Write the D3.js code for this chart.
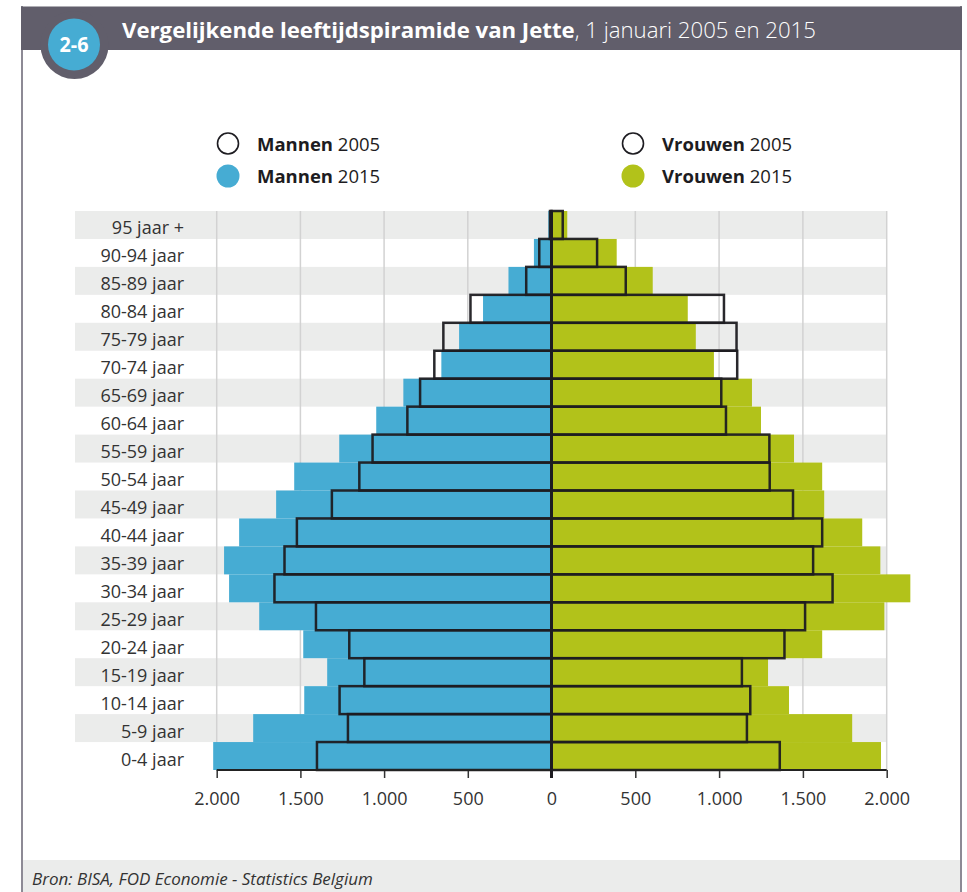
<!DOCTYPE html>
<html>
<head>
<meta charset="utf-8">
<script src="https://cdn.jsdelivr.net/npm/d3@7"></script>
<style>
  html, body { margin: 0; padding: 0; background: #fff; }
  svg { display: block; font-family: "Open Sans", "Noto Sans", sans-serif; }
</style>
</head>
<body>
<svg id="chart" width="967" height="892"></svg>
<script>
// ---- data (bottom to top) ----
const ageGroups = ["0-4 jaar","5-9 jaar","10-14 jaar","15-19 jaar","20-24 jaar","25-29 jaar","30-34 jaar","35-39 jaar","40-44 jaar","45-49 jaar","50-54 jaar","55-59 jaar","60-64 jaar","65-69 jaar","70-74 jaar","75-79 jaar","80-84 jaar","85-89 jaar","90-94 jaar","95 jaar +"];
const men2015   = [2021,1782,1477,1340,1483,1746,1926,1956,1866,1645,1537,1268,1047,885,658,552,409,257,105,19];
const men2005   = [1401,1216,1266,1118,1208,1407,1655,1595,1521,1312,1148,1069,861,785,700,646,484,151,73,9];
const women2015 = [1966,1794,1417,1292,1615,1986,2141,1962,1854,1627,1615,1447,1250,1196,969,861,813,604,389,94];
const women2005 = [1362,1166,1186,1136,1390,1513,1677,1561,1615,1441,1302,1300,1041,1013,1108,1104,1029,443,272,67];
const tickValues = [0,500,1000,1500,2000];
const legendItems = [
  {bold:"Mannen", year:"2005", fill:"none"},
  {bold:"Mannen", year:"2015", fill:"#46acd3"},
  {bold:"Vrouwen", year:"2005", fill:"none"},
  {bold:"Vrouwen", year:"2015", fill:"#b2c21a"}
];
const titleBold = "Vergelijkende leeftijdspiramide van Jette";
const titleRest = ", 1 januari 2005 en 2015";
const source = "Bron: BISA, FOD Economie - Statistics Belgium";

const svg = d3.select("#chart");
const W = 967, H = 892;
const x0 = 551.5, xMin = 216.7, xMax = 886.7;
const yTop = 211, yBottom = 770;
const BLUE = "#46acd3", GREEN = "#b2c21a", DARK = "#1d1c21", FRAME = "#615e6b";

const rows = ageGroups.map((a,i)=>({age:a, m15:men2015[i], m05:men2005[i], w15:women2015[i], w05:women2005[i], idx:i}));
const yOrder = ageGroups.slice().reverse();

const y = d3.scaleBand().domain(yOrder).range([yTop, yBottom]).padding(0);
const xL = d3.scaleLinear().domain([0,2000]).range([x0, xMin]);
const xR = d3.scaleLinear().domain([0,2000]).range([x0, xMax]);

// frame
svg.append("rect").attr("x",0).attr("y",0).attr("width",W).attr("height",H).attr("fill","#fff");
svg.append("rect").attr("x",22).attr("y",860).attr("width",939).attr("height",32).attr("fill","#ebeceb");
svg.append("line").attr("x1",22).attr("x2",22).attr("y1",6).attr("y2",H).attr("stroke","#8d8a95").attr("stroke-width",2);
svg.append("line").attr("x1",961).attr("x2",961).attr("y1",6).attr("y2",H).attr("stroke","#8d8a95").attr("stroke-width",2);
svg.append("rect").attr("x",21).attr("y",6.5).attr("width",941).attr("height",43.5).attr("fill",FRAME);

// badge
svg.append("circle").attr("cx",74.5).attr("cy",45).attr("r",34).attr("fill",FRAME);
svg.append("circle").attr("cx",74).attr("cy",44.5).attr("r",26).attr("fill",BLUE);
svg.append("text").attr("x",74).attr("y",52).attr("text-anchor","middle")
  .attr("fill","#fff").attr("font-size",21).attr("font-weight",700)
  .attr("textLength",29).attr("lengthAdjust","spacingAndGlyphs").text("2-6");

// title
const title = svg.append("text").attr("x",122).attr("y",37.5).attr("fill","#fff").attr("font-size",22.2);
title.append("tspan").attr("font-weight",700).text(titleBold);
title.append("tspan").attr("font-weight",300).text(titleRest);

// legend
const legPos = [[228,143.5,257,151],[228,176,257,183],[633,143.5,662,151],[633,176,662,183]];
legendItems.forEach((d,i)=>{
  const p = legPos[i];
  svg.append("circle").attr("cx",p[0]).attr("cy",p[1]).attr("r", d.fill==="none"?10.5:11.5)
    .attr("fill", d.fill==="none" ? "#fff" : d.fill)
    .attr("stroke", d.fill==="none" ? DARK : "none").attr("stroke-width",1.6);
  const t = svg.append("text").attr("x",p[2]).attr("y",p[3]).attr("font-size",18.5).attr("fill","#1d1c21");
  t.append("tspan").attr("font-weight",700).text(d.bold);
  t.append("tspan").attr("font-weight",400).text(" " + d.year);
});

// stripes
svg.append("g").selectAll("rect").data(yOrder.filter((d,i)=>i%2===0)).join("rect")
  .attr("x",75).attr("width",xMax-75).attr("y",d=>y(d)).attr("height",y.bandwidth()).attr("fill","#ebeceb");

// gridlines
const gridVals = tickValues.filter(v=>v>0);
const grid = svg.append("g").attr("stroke","#d2d2d2").attr("stroke-width",1.5);
gridVals.forEach(v=>{
  grid.append("line").attr("x1",xL(v)).attr("x2",xL(v)).attr("y1",yTop).attr("y2",yBottom);
  grid.append("line").attr("x1",xR(v)).attr("x2",xR(v)).attr("y1",yTop).attr("y2",yBottom);
});

// 2015 bars
svg.append("g").selectAll("rect").data(rows).join("rect")
  .attr("x",d=>xL(d.m15)).attr("width",d=>x0-xL(d.m15))
  .attr("y",d=>y(d.age)).attr("height",y.bandwidth()).attr("fill",BLUE);
svg.append("g").selectAll("rect").data(rows).join("rect")
  .attr("x",x0).attr("width",d=>xR(d.w15)-x0)
  .attr("y",d=>y(d.age)).attr("height",y.bandwidth()).attr("fill",GREEN);

// 2005 outlines
svg.append("g").selectAll("rect").data(rows).join("rect")
  .attr("x",d=>xL(d.m05)).attr("width",d=>x0-xL(d.m05))
  .attr("y",d=>y(d.age)).attr("height",y.bandwidth())
  .attr("fill","none").attr("stroke",DARK).attr("stroke-width",2.5).attr("stroke-opacity",0.95);
svg.append("g").selectAll("rect").data(rows).join("rect")
  .attr("x",x0).attr("width",d=>xR(d.w05)-x0)
  .attr("y",d=>y(d.age)).attr("height",y.bandwidth())
  .attr("fill","none").attr("stroke",DARK).attr("stroke-width",2.5).attr("stroke-opacity",0.95);

// y labels
svg.append("g").selectAll("text").data(yOrder).join("text")
  .attr("x",184).attr("y",d=>y(d)+y.bandwidth()/2 + 3).attr("dy","0.36em")
  .attr("text-anchor","end").attr("font-size",18).attr("fill","#333").text(d=>d);

// x axes
const loc = d3.formatLocale({decimal:",", thousands:".", grouping:[3], currency:["",""]});
const fmt = loc.format(",");
const axL = svg.append("g").attr("transform",`translate(0,${yBottom})`)
  .call(d3.axisBottom(xL).tickValues(tickValues).tickFormat(fmt).tickSize(8).tickPadding(14));
const axR = svg.append("g").attr("transform",`translate(0,${yBottom})`)
  .call(d3.axisBottom(xR).tickValues(tickValues.filter(v=>v>0)).tickFormat(fmt).tickSize(8).tickPadding(14));
[axL, axR].forEach(ax=>{
  ax.select(".domain").remove();
  ax.selectAll(".tick line").attr("stroke","#333").attr("stroke-width",1.5);
  ax.selectAll(".tick text").attr("font-size",18).attr("fill","#333")
    .attr("font-family","\"Open Sans\", sans-serif");
});
svg.append("line").attr("x1",xMin).attr("x2",xMax).attr("y1",yBottom).attr("y2",yBottom)
  .attr("stroke","#222").attr("stroke-width",1.8);

// center axis
svg.append("line").attr("x1",x0).attr("x2",x0).attr("y1",yTop).attr("y2",yBottom+8)
  .attr("stroke",DARK).attr("stroke-width",3);

// source
svg.append("text").attr("x",32).attr("y",885).attr("font-size",17).attr("font-style","italic")
  .attr("fill","#333").text(source);
</script>
</body>
</html>
